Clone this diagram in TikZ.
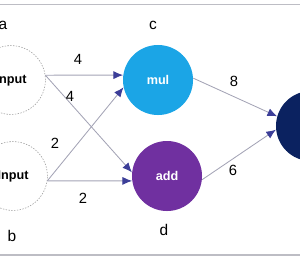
\documentclass[tikz,border=0pt]{standalone}
\usepackage{fontspec}
\setsansfont{Liberation Sans}
\usetikzlibrary{arrows.meta}
\definecolor{rule}{HTML}{BDBDC4}
\definecolor{wire}{HTML}{A3A3B5}
\definecolor{tip}{HTML}{3C3E98}
\definecolor{skyblue}{HTML}{1BA5E6}
\definecolor{plum}{HTML}{7030A0}
\definecolor{navy}{HTML}{0B2260}

\begin{document}
\begin{tikzpicture}[x=0.025cm,y=-0.025cm,>={Latex[length=2.4mm,width=2mm]},
  font=\sffamily,
  inbox/.style={circle,draw=gray!80,dash pattern=on 1pt off 1pt,fill=white,
    minimum size=1.72cm,inner sep=0pt,font=\sffamily\bfseries\fontsize{9}{10}\selectfont},
  opbox/.style={circle,minimum size=1.75cm,inner sep=0pt,text=white,
    font=\sffamily\bfseries\fontsize{9}{10}\selectfont},
  wirestyle/.style={draw=wire,line width=0.6pt,-{Latex[length=2.4mm,width=2mm,color=tip]}},
  tag/.style={font=\sffamily\fontsize{11}{12}\selectfont},
  weight/.style={font=\sffamily\fontsize{10.5}{12}\selectfont}]
  \useasboundingbox (0,0) rectangle (300,259);
  \clip (0,0) rectangle (300,259);

  % frame rules
  \draw[rule,line width=0.8pt] (0,4.5) -- (300,4.5);
  \draw[rule,line width=0.8pt] (0,255) -- (300,255);

  % nodes
  \node[inbox] (a) at (11,80) {Input};
  \node[inbox] (b) at (13,176) {Input};
  \node[opbox,fill=skyblue] (mul) at (158,80) {mul};
  \node[opbox,fill=plum] (add) at (167,176) {add};
  \node[opbox,fill=navy] (out) at (311,126) {};

  % node tags
  \node[tag] (ta) at (3,25) {a};
  \node[tag] (tb) at (12,236) {b};
  \node[tag] (tc) at (153,25) {c};
  \node[tag] (td) at (164,230) {d};

  % connectors
  \draw[wirestyle] (a.8) -- (mul.172);
  \draw[wirestyle] (a.8) -- (add.174);
  \draw[wirestyle] (b.-8) -- (mul.192);
  \draw[wirestyle] (b.-8) -- (add.188);
  \draw[wirestyle] (mul.3) -- (out.164);
  \draw[wirestyle] (add.-6) -- (out.186);

  % weights
  \node[weight] (w1) at (78,59) {4};
  \node[weight] (w2) at (70,96) {4};
  \node[weight] (w3) at (55,143) {2};
  \node[weight] (w4) at (83,198) {2};
  \node[weight] (w5) at (234,81) {8};
  \node[weight] (w6) at (233,170) {6};
\end{tikzpicture}
\end{document}
